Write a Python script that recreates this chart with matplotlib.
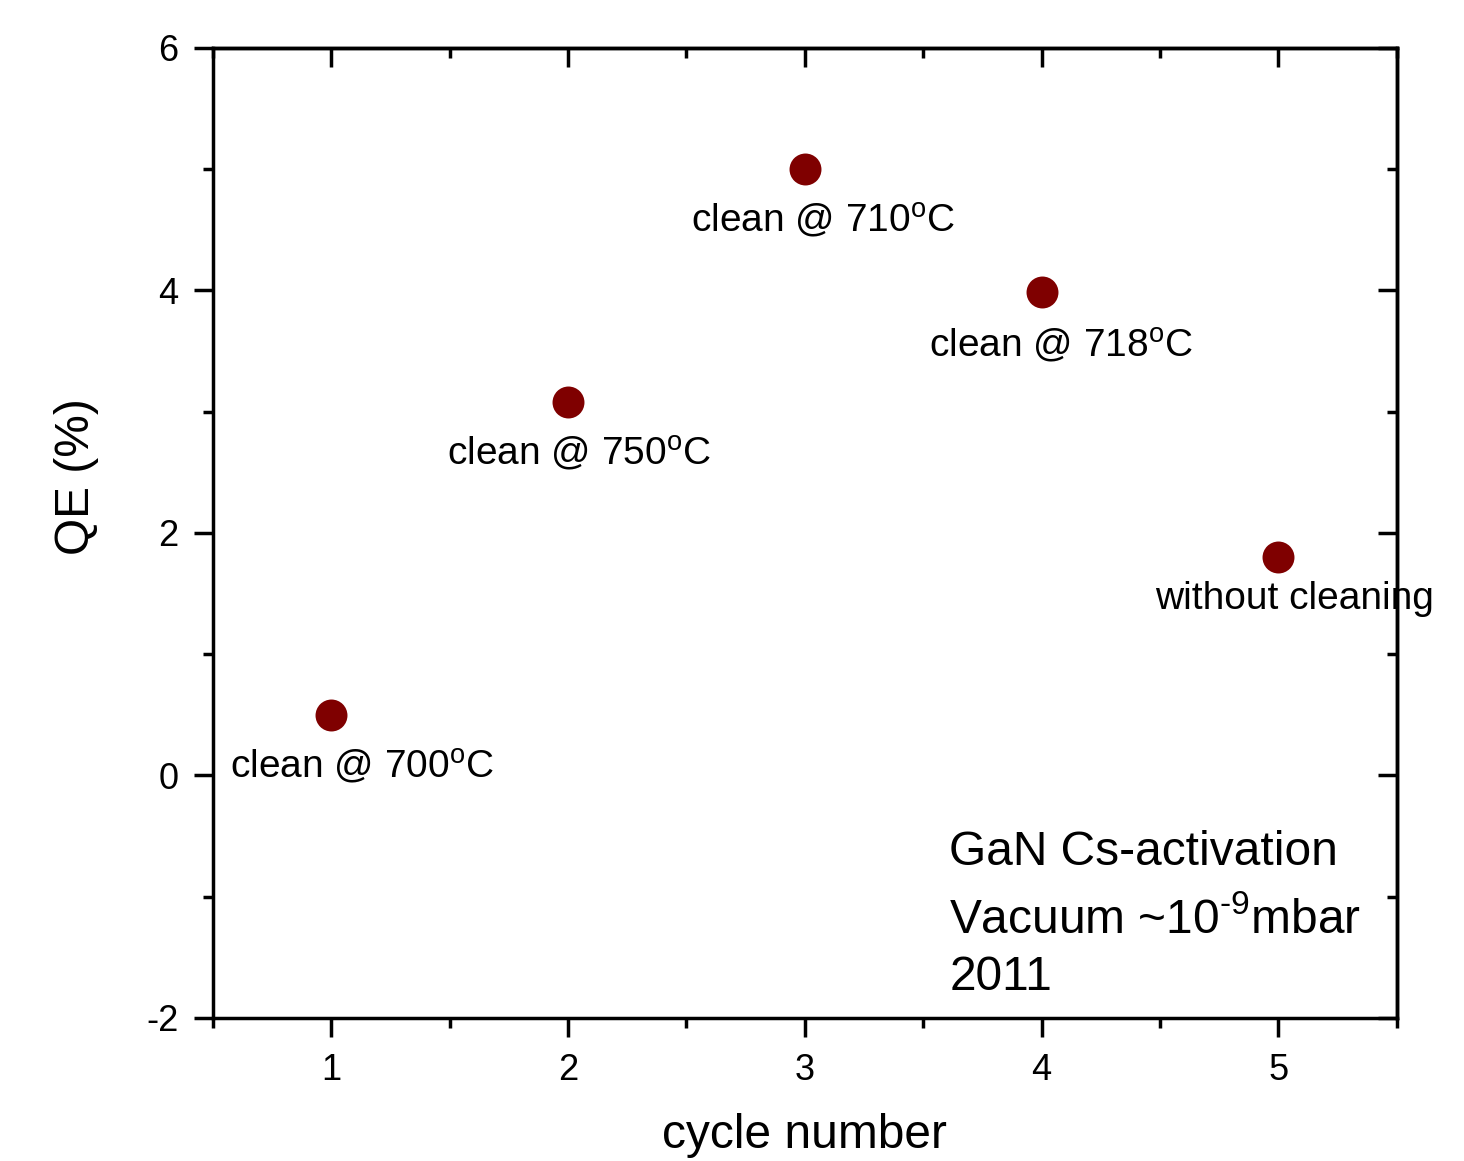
import matplotlib
matplotlib.use("Agg")
import matplotlib.pyplot as plt
from matplotlib.ticker import MultipleLocator

plt.rcParams['font.family'] = ['Liberation Sans', 'DejaVu Sans']
plt.rcParams['mathtext.fontset'] = 'custom'
plt.rcParams['mathtext.rm'] = 'Liberation Sans'
plt.rcParams['mathtext.it'] = 'Liberation Sans:italic'
plt.rcParams['axes.unicode_minus'] = False

# data
cycle = [1, 2, 3, 4, 5]
qe = [0.5, 3.08, 5.0, 3.99, 1.8]
labels = [r'clean @ 700$^{\mathrm{o}}$C', r'clean @ 750$^{\mathrm{o}}$C',
          r'clean @ 710$^{\mathrm{o}}$C', r'clean @ 718$^{\mathrm{o}}$C',
          'without cleaning']
note_lines = ['GaN Cs-activation', r'Vacuum ~10$^{\text{-9}}$mbar', '2011']

fig = plt.figure(figsize=(14.64, 11.61), dpi=100)
ax = fig.add_axes([0.1455, 0.1232, 0.954 - 0.1455, 0.9587 - 0.1232])

ax.plot(cycle, qe, 'o', color='#7f0000', markersize=23, markeredgewidth=0)

# labels under each point
offsets = [(22, -37), (8, -37), (13, -37), (14, -39), (12, -30)]
for x, y, lab, off in zip(cycle, qe, labels, offsets):
    ax.annotate(lab, (x, y), xytext=off, textcoords='offset points',
                ha='center', va='center', fontsize=28)

ax.text(3.61, -0.74, note_lines[0], fontsize=34.5, va='baseline')
ax.text(3.61, -1.30, note_lines[1], fontsize=34.5, va='baseline')
ax.text(3.61, -1.77, note_lines[2], fontsize=34.5, va='baseline')

ax.set_xlim(0.5, 5.5)
ax.set_ylim(-2, 6)
ax.xaxis.set_major_locator(MultipleLocator(1))
ax.xaxis.set_minor_locator(MultipleLocator(0.5))
ax.yaxis.set_major_locator(MultipleLocator(2))
ax.yaxis.set_minor_locator(MultipleLocator(1))

for s in ax.spines.values():
    s.set_linewidth(2.5)

ax.tick_params(which='both', direction='out', width=2.5, labelsize=26,
               top=False, right=False)
ax.tick_params(which='major', length=14, pad=11)
ax.tick_params(which='minor', length=7)

# inward ticks on top and right
ax2 = ax.secondary_xaxis('top')
ax2.xaxis.set_major_locator(MultipleLocator(1))
ax2.xaxis.set_minor_locator(MultipleLocator(0.5))
ax2.tick_params(which='both', direction='in', width=2.5, labeltop=False)
ax2.tick_params(which='major', length=14)
ax2.tick_params(which='minor', length=7)
ax2.spines['top'].set_linewidth(2.5)
ax3 = ax.secondary_yaxis('right')
ax3.yaxis.set_major_locator(MultipleLocator(2))
ax3.yaxis.set_minor_locator(MultipleLocator(1))
ax3.tick_params(which='both', direction='in', width=2.5, labelright=False)
ax3.tick_params(which='major', length=14)
ax3.tick_params(which='minor', length=7)
ax3.spines['right'].set_linewidth(2.5)

ax.set_xlabel('cycle number', fontsize=34.5, labelpad=18)
ax.set_ylabel('QE (%)', fontsize=34.5, labelpad=34, y=0.558)

fig.savefig('out.png', dpi=100)
